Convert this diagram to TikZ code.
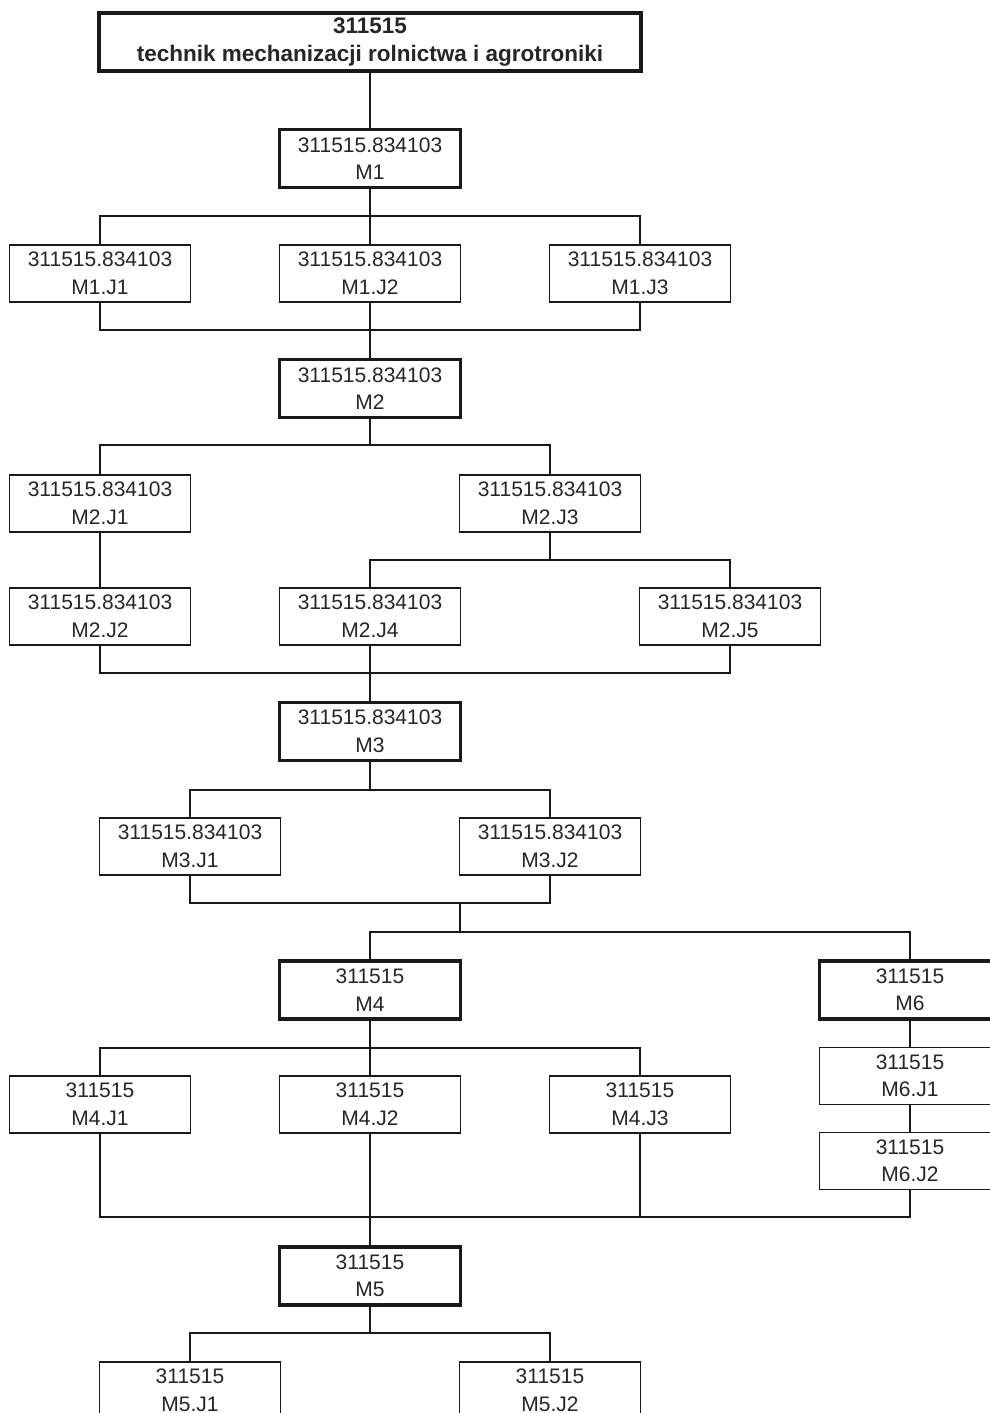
\documentclass[tikz,border=0pt]{standalone}
\usepackage{fontspec}
\setmainfont{Liberation Sans}
\usepackage{tikz}
\usepackage{xcolor}
\definecolor{box_line}{rgb}{0.1, 0.1, 0.1}
\definecolor{box_text}{rgb}{0.15, 0.15, 0.15}

\tikzset{
  unitbox/.style={draw=box_line, line width=1.3pt, fill=white, text=box_text,
    minimum width=181pt, minimum height=57pt, inner sep=0pt, align=center,
    font=\fontsize{21pt}{27.5pt}\selectfont},
  modbox/.style={unitbox, line width=3.2pt, minimum height=58pt},
  titlebox/.style={modbox, minimum width=542pt, font=\bfseries\fontsize{22.5pt}{28pt}\selectfont},
  link/.style={draw=box_line, line width=1.3pt}
}

\begin{document}
\begin{tikzpicture}[x=1pt, y=-1pt]
    % page: 990 x 1413, measured from the top left corner
    \useasboundingbox (0,0) rectangle (990,1413);
    \clip (0,0) rectangle (990,1413);
    \fill[white] (0,0) rectangle (990,1413);

    % Qualification and modules
    \node[titlebox] (title) at (370,42) {311515\\technik mechanizacji rolnictwa i agrotroniki};
    \node[modbox] (m1) at (370,158.5) {311515.834103\\M1};
    \node[modbox] (m2) at (370,388.5) {311515.834103\\M2};
    \node[modbox] (m3) at (370,731.5) {311515.834103\\M3};
    \node[modbox] (m4) at (370,990) {311515\\M4};
    \node[modbox] (m6) at (910,990) {311515\\M6};
    \node[modbox] (m5) at (370,1276) {311515\\M5};

    % Units of each module
    \foreach \name/\x/\y/\code/\lab in {
        m1j1/100/273.5/311515.834103/M1.J1, m1j2/370/273.5/311515.834103/M1.J2,
        m1j3/640/273.5/311515.834103/M1.J3,
        m2j1/100/503.5/311515.834103/M2.J1, m2j3/550/503.5/311515.834103/M2.J3,
        m2j2/100/616.5/311515.834103/M2.J2, m2j4/370/616.5/311515.834103/M2.J4,
        m2j5/730/616.5/311515.834103/M2.J5,
        m3j1/190/846.5/311515.834103/M3.J1, m3j2/550/846.5/311515.834103/M3.J2,
        m4j1/100/1104.5/311515/M4.J1, m4j2/370/1104.5/311515/M4.J2,
        m4j3/640/1104.5/311515/M4.J3,
        m6j1/910/1076/311515/M6.J1, m6j2/910/1161/311515/M6.J2,
        m5j1/190/1390.5/311515/M5.J1, m5j2/550/1390.5/311515/M5.J2} {
      \node[unitbox] (\name) at (\x,\y) {\code\\\lab};
    }

    % Bus lines
    \coordinate (b1) at (370,216);
    \coordinate (b2) at (370,330);
    \coordinate (b3) at (370,445);
    \coordinate (b4) at (550,560);
    \coordinate (b5) at (370,673);
    \coordinate (b6) at (370,790);
    \coordinate (b7) at (460,903);
    \coordinate (b8) at (460,932);
    \coordinate (b9) at (370,1048);
    \coordinate (b10) at (370,1217);
    \coordinate (b11) at (370,1333);

    % M1
    \draw[link] (title) -- (m1);
    \draw[link] (m1) -- (b1);
    \draw[link] (m1j1) |- (b1) -| (m1j3);
    \draw[link] (b1) -- (m1j2);
    \draw[link] (m1j1) |- (b2) -| (m1j3);
    \draw[link] (m1j2) -- (m2);

    % M2
    \draw[link] (m2) -- (b3);
    \draw[link] (m2j1) |- (b3) -| (m2j3);
    \draw[link] (m2j1) -- (m2j2);
    \draw[link] (m2j3) -- (b4);
    \draw[link] (m2j4) |- (b4) -| (m2j5);
    \draw[link] (m2j2) |- (b5) -| (m2j5);
    \draw[link] (m2j4) -- (m3);

    % M3
    \draw[link] (m3) -- (b6);
    \draw[link] (m3j1) |- (b6) -| (m3j2);
    \draw[link] (m3j1) |- (b7) -| (m3j2);
    \draw[link] (b7) -- (b8);
    \draw[link] (m4) |- (b8) -| (m6);

    % M4 and M6
    \draw[link] (m4) -- (b9);
    \draw[link] (m4j1) |- (b9) -| (m4j3);
    \draw[link] (b9) -- (m4j2);
    \draw[link] (m6) -- (m6j1);
    \draw[link] (m6j1) -- (m6j2);
    \draw[link] (m4j1) |- (b10) -| (m6j2);
    \draw[link] (m4j3) -- (m4j3 |- b10);
    \draw[link] (m4j2) -- (m5);

    % M5
    \draw[link] (m5) -- (b11);
    \draw[link] (m5j1) |- (b11) -| (m5j2);

  \end{tikzpicture}
\end{document}
